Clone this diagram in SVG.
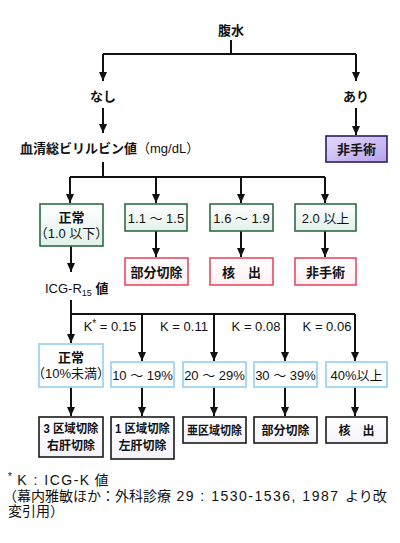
<svg xmlns="http://www.w3.org/2000/svg" width="400" height="543" viewBox="0 0 400 543">
<defs>
<marker id="ah" markerUnits="userSpaceOnUse" markerWidth="10" markerHeight="10" refX="9" refY="4" orient="auto">
<path d="M0,0 L9,4 L0,8 z" fill="#111"/>
</marker>
<linearGradient id="gGreen" x1="0" y1="0" x2="0" y2="1"><stop offset="0" stop-color="#ffffff"/><stop offset="1" stop-color="#e2f1e9"/></linearGradient>
<linearGradient id="gRed" x1="0" y1="0" x2="0" y2="1"><stop offset="0" stop-color="#ffffff"/><stop offset="1" stop-color="#fff1f3"/></linearGradient>
<linearGradient id="gPurple" x1="0" y1="0" x2="1" y2="1"><stop offset="0" stop-color="#e4d9fb"/><stop offset="1" stop-color="#b8a2ee"/></linearGradient>
<linearGradient id="gBlack" x1="0" y1="0" x2="0" y2="1"><stop offset="0" stop-color="#ffffff"/><stop offset="1" stop-color="#f6f2fb"/></linearGradient>
</defs>
<style>
text{font-family:"Liberation Sans","Noto Sans CJK JP",sans-serif;font-size:13px;fill:#111}
.c{text-anchor:middle}
.b{font-weight:bold}
.s{font-size:12px}
.con{fill:none;stroke:#111;stroke-width:2}
.arr{fill:none;stroke:#111;stroke-width:2;marker-end:url(#ah)}
.green{fill:url(#gGreen);stroke:#2f6b45;stroke-width:1.6}
.red{fill:url(#gRed);stroke:#ea4a60;stroke-width:1.6}
.purple{fill:url(#gPurple);stroke:#2c1f5c;stroke-width:1.6}
.blue{fill:#ffffff;stroke:#9fd4f2;stroke-width:1.8}
.black{fill:url(#gBlack);stroke:#1a1a1a;stroke-width:1.6}
.fn{font-size:14px}
.lat{letter-spacing:1.5px}
</style>
<rect width="400" height="543" fill="#ffffff"/>

<g id="connectors">
<path class="con" d="M231,40 V54 M103,54 H356"/>
<path class="arr" d="M103,54 V81"/>
<path class="arr" d="M356,54 V81"/>
<path class="arr" d="M103,108 V133"/>
<path class="arr" d="M356,108 V135"/>
<path class="con" d="M103,162 V177 M70,177 H325"/>
<path class="arr" d="M70,177 V203"/>
<path class="arr" d="M156,177 V203"/>
<path class="arr" d="M241,177 V203"/>
<path class="arr" d="M325,177 V203"/>
<path class="arr" d="M156,231 V257"/>
<path class="arr" d="M241,231 V257"/>
<path class="arr" d="M325,231 V257"/>
<path class="arr" d="M71,246 V272"/>
<path class="con" d="M71,300 V314 M71,314 H355"/>
<path class="arr" d="M71,314 V343"/>
<path class="arr" d="M142,314 V361"/>
<path class="arr" d="M214,314 V361"/>
<path class="arr" d="M285,314 V361"/>
<path class="arr" d="M355,314 V361"/>
<path class="arr" d="M71,387 V416"/>
<path class="arr" d="M142,387 V416"/>
<path class="arr" d="M214,387 V416"/>
<path class="arr" d="M285,387 V416"/>
<path class="arr" d="M355,387 V416"/>
</g>

<g id="n-ascites"><text class="c b" x="231" y="35">腹水</text></g>
<g id="n-none"><text class="c b" x="103" y="101">なし</text></g>
<g id="n-present"><text class="c b" x="356" y="101">あり</text></g>
<g id="n-nosurg1"><rect class="purple" x="326" y="136" width="61" height="26"/><text class="c b" x="356.5" y="154">非手術</text></g>
<g id="n-bilirubin"><text class="b" x="20" y="153">血清総ビリルビン値<tspan font-weight="normal">（mg/dL）</tspan></text></g>

<g id="n-normal1"><rect class="green" x="40" y="204" width="63" height="42"/><text class="c b" x="71.5" y="222">正常</text><text class="c" x="71.5" y="238">（1.0 以下）</text></g>
<g id="n-b1"><rect class="green" x="125" y="204" width="62" height="27"/><text class="c" x="156" y="223">1.1 ～ 1.5</text></g>
<g id="n-b2"><rect class="green" x="210" y="204" width="63" height="27"/><text class="c" x="241.5" y="223">1.6 ～ 1.9</text></g>
<g id="n-b3"><rect class="green" x="295" y="204" width="61" height="27"/><text class="c" x="325.5" y="223">2.0 以上</text></g>

<g id="n-partial1"><rect class="red" x="125" y="258" width="63" height="27"/><text class="c b" x="156.5" y="276.5">部分切除</text></g>
<g id="n-enuc1"><rect class="red" x="210" y="258" width="63" height="27"/><text class="c b" x="241.5" y="276.5">核　出</text></g>
<g id="n-nosurg2"><rect class="red" x="295" y="258" width="61" height="27"/><text class="c b" x="325.5" y="276.5">非手術</text></g>

<g id="n-icg"><text x="45" y="293">ICG-R<tspan font-size="9" dy="3">15</tspan><tspan dy="-3" font-weight="bold"> 値</tspan></text></g>

<g id="k-labels">
<text class="c" x="110" y="330.5">K<tspan font-size="10" dy="-4">*</tspan><tspan dy="4"> = 0.15</tspan></text>
<text class="c" x="184" y="330.5">K = 0.11</text>
<text class="c" x="256" y="330.5">K = 0.08</text>
<text class="c" x="327" y="330.5">K = 0.06</text>
</g>

<g id="n-normal2"><rect class="blue" x="39" y="344" width="64" height="43"/><text class="c b" x="71" y="362">正常</text><text class="c" x="71" y="378">（10%未満）</text></g>
<g id="n-r1"><rect class="blue" x="111" y="362" width="63" height="25"/><text class="c" x="142.5" y="379.5">10 ～ 19%</text></g>
<g id="n-r2"><rect class="blue" x="183" y="362" width="63" height="25"/><text class="c" x="214.5" y="379.5">20 ～ 29%</text></g>
<g id="n-r3"><rect class="blue" x="254" y="362" width="63" height="25"/><text class="c" x="285.5" y="379.5">30 ～ 39%</text></g>
<g id="n-r4"><rect class="blue" x="326" y="362" width="61" height="25"/><text class="c" x="356.5" y="379.5">40%以上</text></g>

<g id="n-s1"><rect class="black" x="39" y="417" width="64" height="40"/><text class="c b s" x="71" y="433" textLength="55" lengthAdjust="spacingAndGlyphs">3 区域切除</text><text class="c b s" x="71" y="450">右肝切除</text></g>
<g id="n-s2"><rect class="black" x="111" y="417" width="63" height="42"/><text class="c b s" x="142.5" y="433" textLength="55" lengthAdjust="spacingAndGlyphs">1 区域切除</text><text class="c b s" x="142.5" y="450">左肝切除</text></g>
<g id="n-s3"><rect class="black" x="183" y="417" width="63" height="26"/><text class="c b s" x="214.5" y="435" textLength="55" lengthAdjust="spacingAndGlyphs">亜区域切除</text></g>
<g id="n-s4"><rect class="black" x="254" y="417" width="63" height="26"/><text class="c b s" x="285.5" y="435">部分切除</text></g>
<g id="n-s5"><rect class="black" x="326" y="417" width="61" height="26"/><text class="c b s" x="356.5" y="435">核　出</text></g>

<g id="footnote">
<text class="fn" x="8" y="485"><tspan font-size="10" dy="-5">*</tspan><tspan dy="5" class="lat"> K : ICG-K</tspan> 値</text>
<text class="fn" x="3" y="501">（幕内雅敏ほか：外科診療<tspan class="lat"> 29 : 1530-1536, 1987 </tspan>より改</text>
<text class="fn" x="8" y="516">変引用）</text>
</g>
</svg>
